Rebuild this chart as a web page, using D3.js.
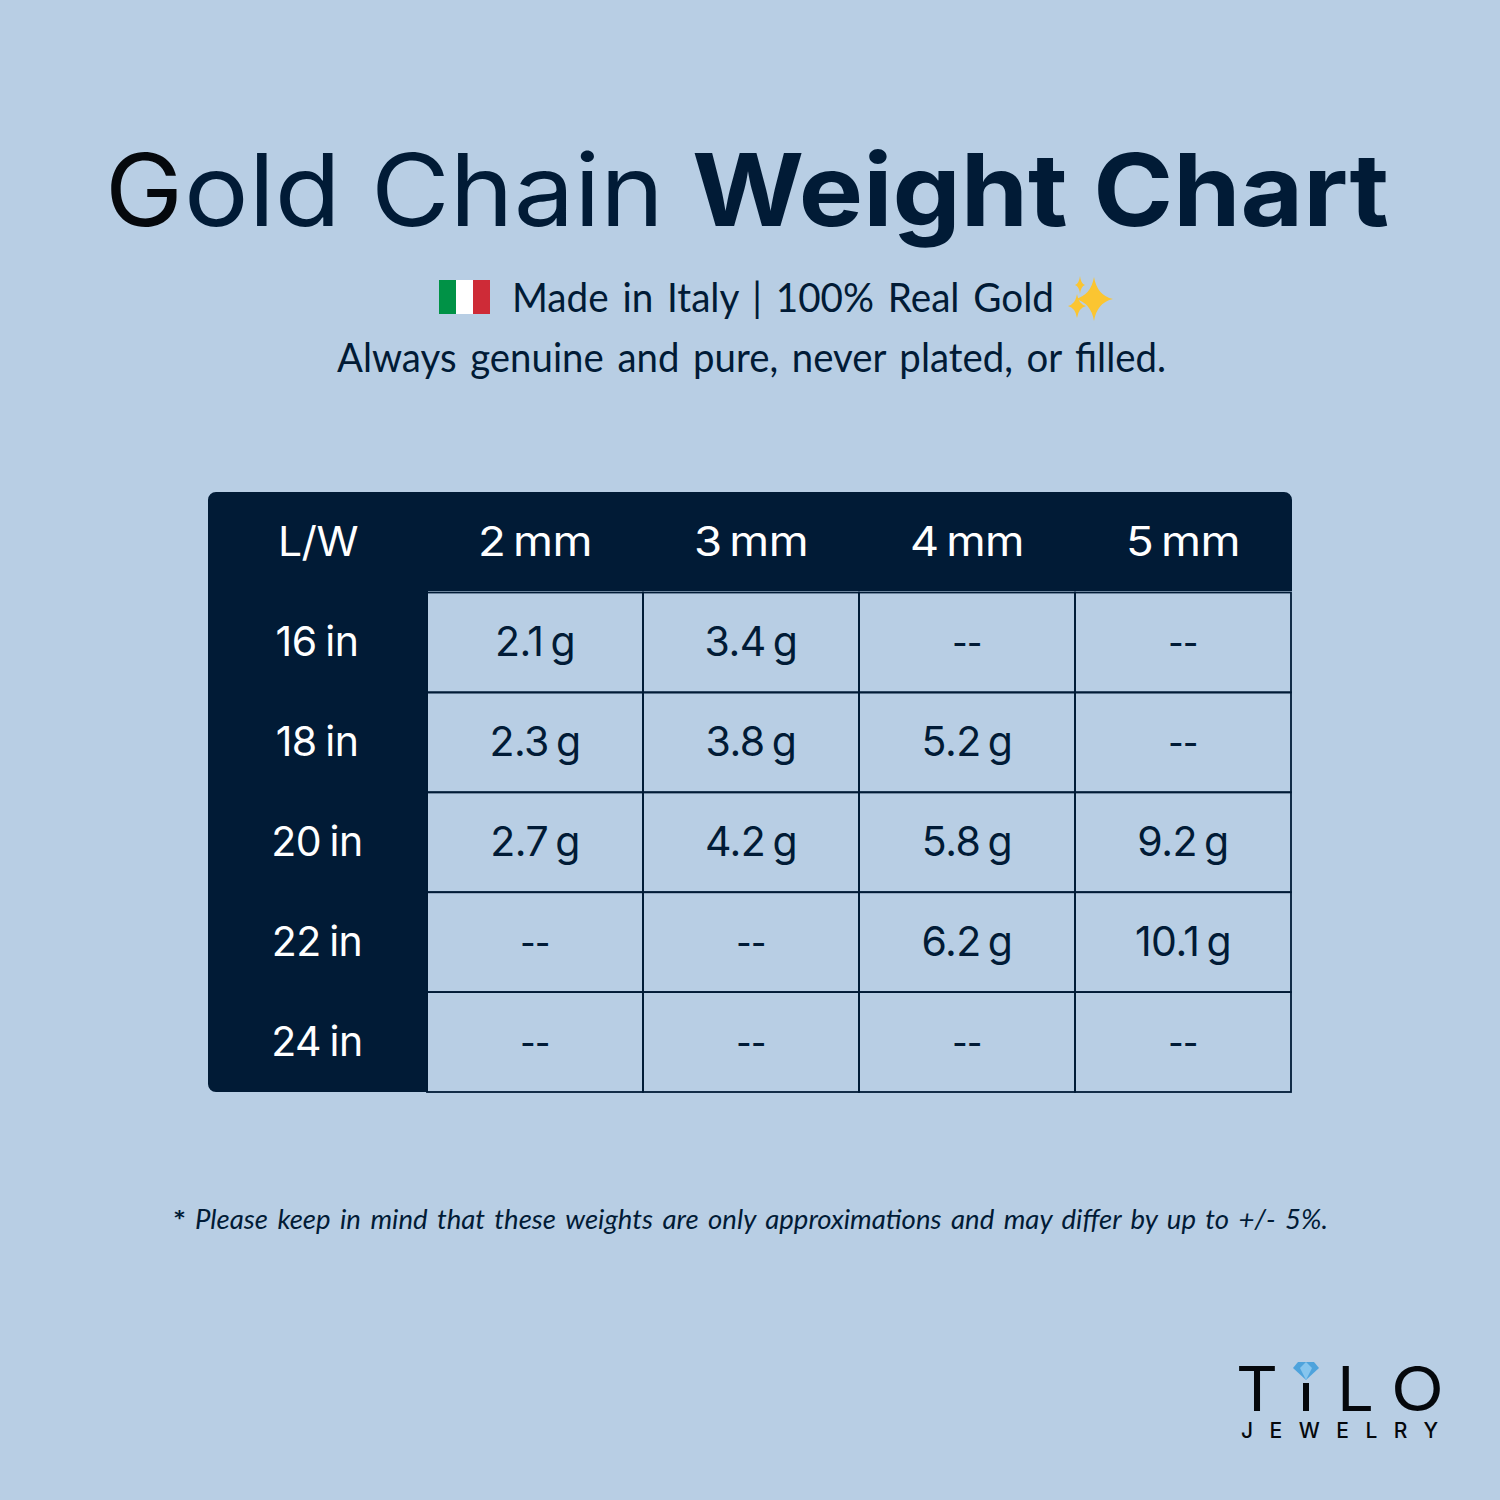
<!DOCTYPE html>
<html>
<head>
<meta charset="utf-8">
<script src="https://cdn.jsdelivr.net/npm/d3@7"></script>
<style>
html, body { margin: 0; padding: 0; background: #b8cee4; }
svg { display: block; }
</style>
</head>
<body>
<script>
// table content
var widths = ["2 mm", "3 mm", "4 mm", "5 mm"];
var lengths = ["16 in", "18 in", "20 in", "22 in", "24 in"];
var row16 = ["2.1 g", "3.4 g", "--", "--"];
var row18 = ["2.3 g", "3.8 g", "5.2 g", "--"];
var row20 = ["2.7 g", "4.2 g", "5.8 g", "9.2 g"];
var row22 = ["--", "--", "6.2 g", "10.1 g"];
var row24 = ["--", "--", "--", "--"];
var rows = [row16, row18, row20, row22, row24];

var navy = "#011b36";
var ink = "#05080c";
var bg = "#b8cee4";
var headFont = "Inter, 'Open Sans', sans-serif";
var bodyFont = "Lato, 'Noto Sans', sans-serif";

var svg = d3.select("body").append("svg")
    .attr("width", 1500)
    .attr("height", 1500);

svg.append("rect").attr("width", 1500).attr("height", 1500).attr("fill", bg);

// text stretched to the width of the original lettering
function fitText(str, x, y, len, size, weight, color, family, style) {
    var t = svg.append("text")
        .attr("x", x)
        .attr("y", y)
        .attr("font-family", family)
        .attr("font-size", size)
        .attr("font-weight", weight)
        .attr("fill", color)
        .attr("textLength", len)
        .attr("lengthAdjust", "spacingAndGlyphs")
        .text(str);
    if (style) t.attr("font-style", style);
    return t;
}

// title
fitText("G", 105, 226, 78, 100, 400, ink, headFont);
fitText("old Chain", 184, 226, 480, 100, 400, navy, headFont);
fitText("Weight Chart", 692, 226, 697, 100, 700, navy, headFont);

// subtitle with the flag and the sparkles
var flag = svg.append("g").attr("transform", "translate(439,280)");
flag.append("rect").attr("width", 17).attr("height", 34).attr("fill", "#009246");
flag.append("rect").attr("x", 17).attr("width", 17).attr("height", 34).attr("fill", "#ffffff");
flag.append("rect").attr("x", 34).attr("width", 17).attr("height", 34).attr("fill", "#ce2b37");

fitText("Made in Italy | 100% Real Gold", 512, 312, 542, 40, 400, navy, bodyFont)
    .attr("word-spacing", 4);

function sparkle(cx, cy, rx, ry) {
    var k = 0.16;
    var p = "M" + cx + "," + (cy - ry) +
        "Q" + (cx + rx * k) + "," + (cy - ry * k) + " " + (cx + rx) + "," + cy +
        "Q" + (cx + rx * k) + "," + (cy + ry * k) + " " + cx + "," + (cy + ry) +
        "Q" + (cx - rx * k) + "," + (cy + ry * k) + " " + (cx - rx) + "," + cy +
        "Q" + (cx - rx * k) + "," + (cy - ry * k) + " " + cx + "," + (cy - ry) + "Z";
    svg.append("path").attr("d", p).attr("fill", "#fbc531");
}
sparkle(1094, 299, 19, 22);
sparkle(1077, 306, 9, 12);
sparkle(1080, 285, 5, 9);

fitText("Always genuine and pure, never plated, or filled.", 337, 372, 829, 40, 400, navy, bodyFont)
    .attr("word-spacing", 4);

// table
var x = d3.scaleBand().domain(widths).range([427, 1291]);
var y = d3.scaleBand().domain(lengths).range([592.5, 1092]);

svg.append("path")
    .attr("fill", navy)
    .attr("d", "M208,500a8,8 0 0 1 8,-8H1284a8,8 0 0 1 8,8V591H428V1092H216a8,8 0 0 1 -8,-8Z");

// cell grid
var cellG = svg.append("g");
lengths.forEach(function(len) {
    widths.forEach(function(w) {
        cellG.append("rect")
            .attr("x", x(w))
            .attr("y", y(len))
            .attr("width", x.bandwidth())
            .attr("height", y.bandwidth())
            .attr("fill", "none")
            .attr("stroke", navy)
            .attr("stroke-width", 1.8);
    });
});

function tableText(str, cx, cy, color, len, gap) {
    var isDash = str == "--";
    var t = svg.append("text")
        .attr("x", cx)
        .attr("y", isDash ? cy - 1 : cy)
        .attr("text-anchor", "middle")
        .attr("font-family", headFont)
        .attr("font-size", isDash ? 33 : 41)
        .attr("font-weight", isDash ? 500 : 400)
        .attr("letter-spacing", "-0.5")
        .attr("word-spacing", gap === undefined ? -4 : gap)
        .attr("fill", color)
        .text(str);
    if (len) t.attr("textLength", len).attr("lengthAdjust", "spacingAndGlyphs");
}

tableText("L/W", 318, 556, "#ffffff", 80);
widths.forEach(function(w) {
    tableText(w, x(w) + x.bandwidth() / 2, 556, "#ffffff", 114);
});
lengths.forEach(function(len, i) {
    var cy = y(len) + y.bandwidth() / 2 + 14;
    tableText(len, 317, cy, "#ffffff", 0, -2.5);
    rows[i].forEach(function(val, j) {
        tableText(val, x(widths[j]) + x.bandwidth() / 2, cy, navy);
    });
});

// footnote
fitText("*", 173, 1230, 13, 27, 700, navy, bodyFont);
fitText("Please keep in mind that these weights are only approximations and may differ by up to +/- 5%.",
    195, 1229, 1133, 27, 400, navy, bodyFont, "italic").attr("word-spacing", 3);

// logo
var logoFont = "Inter, sans-serif";
fitText("T", 1236, 1411, 42, 62, 400, ink, logoFont);
fitText("L", 1337, 1411, 37, 62, 400, ink, logoFont);
fitText("O", 1391, 1411, 53, 62, 400, ink, logoFont);
svg.append("rect").attr("x", 1303).attr("y", 1383).attr("width", 6).attr("height", 28).attr("fill", ink);

var gem = svg.append("g");
gem.append("path").attr("d", "M1293,1368L1298,1362H1314L1319,1368L1306,1380Z").attr("fill", "#4ea3dc");
gem.append("path").attr("d", "M1300,1368L1306,1362L1312,1368L1306,1380Z").attr("fill", "#86c5ee");

svg.append("text")
    .attr("x", 1241)
    .attr("y", 1438)
    .attr("font-family", logoFont)
    .attr("font-size", 21)
    .attr("font-weight", 500)
    .attr("fill", ink)
    .attr("textLength", 197)
    .text("JEWELRY");
</script>
</body>
</html>
